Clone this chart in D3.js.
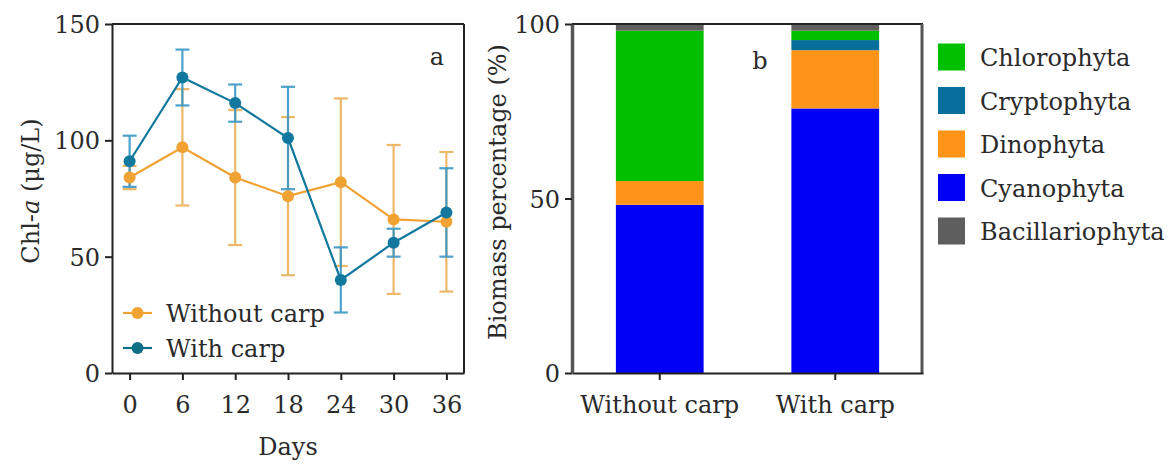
<!DOCTYPE html>
<html>
<head>
<meta charset="utf-8">
<script src="https://cdn.jsdelivr.net/npm/d3@7"></script>
<style>
  html, body { margin: 0; padding: 0; background: #fff; }
  text { font-family: "DejaVu Serif", serif; fill: #2a2a2a; }
</style>
</head>
<body>
<svg id="chart" width="1176" height="465"></svg>
<script>
// ---------- Data ----------
const days = [0, 6, 12, 18, 24, 30, 36];
const withoutMean = [84, 97, 84, 76, 82, 66, 65];
const withoutErr  = [5, 25, 29, 34, 36, 32, 30];
const withMean    = [91, 127, 116, 101, 40, 56, 69];
const withErr     = [11, 12, 8, 22, 14, 6, 19];
const chlTicks = [0, 50, 100, 150];

const groups = ["Without carp", "With carp"];
const phyla = ["Cyanophyta", "Dinophyta", "Cryptophyta", "Chlorophyta", "Bacillariophyta"];
const cyanophyta      = [48.2, 75.8];
const dinophyta       = [6.8, 16.7];
const cryptophyta     = [0, 2.9];
const chlorophyta     = [43.1, 2.7];
const bacillariophyta = [1.9, 1.9];
const legendOrder = ["Chlorophyta", "Cryptophyta", "Dinophyta", "Cyanophyta", "Bacillariophyta"];
const pctTicks = [0, 50, 100];

const phylaColor = {
  Chlorophyta: "#00c000",
  Cryptophyta: "#076f9c",
  Dinophyta: "#ff9419",
  Cyanophyta: "#0000f5",
  Bacillariophyta: "#5e5e5e"
};
const orange = "#f0a232", orangeErr = "#eab25a";
const teal = "#12789e", tealErr = "#3a98c6";

const svg = d3.select("#chart");
const FS = 24;

// ---------- Panel a ----------
const ax = d3.scaleLinear().domain([-2, 38]).range([112, 464]);
const ay = d3.scaleLinear().domain([0, 150]).range([373, 24]);
const ga = svg.append("g");

// frame
ga.append("line").attr("x1", 112).attr("x2", 464).attr("y1", ay(150)).attr("y2", ay(150)).attr("stroke", "#222").attr("stroke-width", 2);
ga.append("line").attr("x1", 464).attr("x2", 464).attr("y1", ay(150)).attr("y2", ay(0)).attr("stroke", "#222").attr("stroke-width", 2);

const xAxisA = ga.append("g").attr("transform", `translate(0,${ay(0)})`)
  .call(d3.axisBottom(ax).tickValues(days).tickSize(7).tickPadding(10).tickSizeOuter(0));
const yAxisA = ga.append("g").attr("transform", `translate(112,0)`)
  .call(d3.axisLeft(ay).tickValues(chlTicks).tickSize(7).tickPadding(5).tickSizeOuter(0));
[xAxisA, yAxisA].forEach(g => {
  g.select(".domain").attr("stroke", "#222").attr("stroke-width", 2);
  g.selectAll(".tick line").attr("stroke", "#222").attr("stroke-width", 2);
  g.selectAll("text").attr("font-size", FS).attr("font-family", "DejaVu Serif").attr("fill", "#2a2a2a");
});
xAxisA.selectAll("text").attr("dy", "0.95em");
yAxisA.selectAll("text").attr("dy", "0.36em");

function drawSeries(mean, err, color, ecolor) {
  const eg = ga.append("g").attr("stroke", ecolor).attr("stroke-width", 2.2).attr("opacity", 0.9);
  days.forEach((d, i) => {
    const x = ax(d), y1 = ay(mean[i] + err[i]), y0 = ay(mean[i] - err[i]);
    eg.append("line").attr("x1", x).attr("x2", x).attr("y1", y1).attr("y2", y0);
    eg.append("line").attr("x1", x - 7).attr("x2", x + 7).attr("y1", y1).attr("y2", y1);
    eg.append("line").attr("x1", x - 7).attr("x2", x + 7).attr("y1", y0).attr("y2", y0);
  });
}
function drawLine(mean, color) {
  ga.append("path")
    .datum(days.map((d, i) => [d, mean[i]]))
    .attr("fill", "none").attr("stroke", color).attr("stroke-width", 2.2)
    .attr("d", d3.line().x(p => ax(p[0])).y(p => ay(p[1])));
  ga.append("g").selectAll("circle").data(days).join("circle")
    .attr("cx", d => ax(d)).attr("cy", (d, i) => ay(mean[i])).attr("r", 6).attr("fill", color);
}
drawSeries(withoutMean, withoutErr, orange, orangeErr);
drawSeries(withMean, withErr, teal, tealErr);
drawLine(withoutMean, orange);
drawLine(withMean, teal);

ga.append("text").attr("x", 437).attr("y", 65).attr("text-anchor", "middle").attr("font-size", FS).text("a");

// legend a
const legA = [["Without carp", orange], ["With carp", "#0f6f84"]];
legA.forEach((l, i) => {
  const y = 313 + i * 35;
  ga.append("line").attr("x1", 123).attr("x2", 152).attr("y1", y).attr("y2", y).attr("stroke", l[1]).attr("stroke-width", 2.2);
  ga.append("circle").attr("cx", 137.5).attr("cy", y).attr("r", 6).attr("fill", l[1]);
  ga.append("text").attr("x", 166).attr("y", y + 9).attr("font-size", FS).text(l[0]);
});

// axis titles a
ga.append("text").attr("x", (112 + 464) / 2).attr("y", 455).attr("text-anchor", "middle").attr("font-size", FS).text("Days");
const ta = ga.append("text").attr("transform", "translate(39,191) rotate(-90)").attr("text-anchor", "middle").attr("font-size", FS);
ta.append("tspan").text("Chl-");
ta.append("tspan").attr("font-style", "italic").text("a");
ta.append("tspan").text(" (μg/L)");

// ---------- Panel b ----------
const bx = d3.scaleBand().domain(groups).range([572, 923]).paddingInner(0.5).paddingOuter(0.25);
const by = d3.scaleLinear().domain([0, 100]).range([373, 24]);
const gb = svg.append("g");

const table = groups.map((g, i) => ({
  group: g,
  Cyanophyta: cyanophyta[i], Dinophyta: dinophyta[i], Cryptophyta: cryptophyta[i],
  Chlorophyta: chlorophyta[i], Bacillariophyta: bacillariophyta[i]
}));
const stacked = d3.stack().keys(phyla)(table);
gb.append("g").selectAll("g").data(stacked).join("g")
  .attr("fill", s => phylaColor[s.key])
  .selectAll("rect").data(s => s).join("rect")
  .attr("x", d => bx(d.data.group)).attr("width", bx.bandwidth())
  .attr("y", d => by(d[1])).attr("height", d => by(d[0]) - by(d[1]));

// frame b
gb.append("line").attr("x1", 572).attr("x2", 923).attr("y1", by(100)).attr("y2", by(100)).attr("stroke", "#222").attr("stroke-width", 2);
gb.append("line").attr("x1", 922).attr("x2", 922).attr("y1", by(100)).attr("y2", by(0)).attr("stroke", "#555").attr("stroke-width", 3);

const xAxisB = gb.append("g").attr("transform", `translate(0,${by(0)})`)
  .call(d3.axisBottom(bx).tickSize(7).tickPadding(10).tickSizeOuter(0));
const yAxisB = gb.append("g").attr("transform", `translate(572,0)`)
  .call(d3.axisLeft(by).tickValues(pctTicks).tickSize(7).tickPadding(5).tickSizeOuter(0));
xAxisB.select(".domain").attr("stroke", "#222").attr("stroke-width", 2);
yAxisB.select(".domain").attr("stroke", "#555").attr("stroke-width", 3.5);
[xAxisB, yAxisB].forEach(g => {
  g.selectAll(".tick line").attr("stroke", "#222").attr("stroke-width", 2);
  g.selectAll("text").attr("font-size", FS).attr("font-family", "DejaVu Serif").attr("fill", "#2a2a2a");
});
xAxisB.selectAll("text").attr("dy", "0.95em");
yAxisB.selectAll("text").attr("dy", "0.36em");

gb.append("text").attr("x", 760).attr("y", 69).attr("text-anchor", "middle").attr("font-size", FS).text("b");
gb.append("text").attr("transform", "translate(506,192) rotate(-90)").attr("text-anchor", "middle").attr("font-size", FS).text("Biomass percentage (%)");

// legend b
legendOrder.forEach((k, i) => {
  const cy = 57 + i * 43.5;
  gb.append("rect").attr("x", 938).attr("y", cy - 13.5).attr("width", 27).attr("height", 27).attr("fill", phylaColor[k]);
  gb.append("text").attr("x", 980).attr("y", cy + 9).attr("font-size", FS).text(k);
});
</script>
</body>
</html>
